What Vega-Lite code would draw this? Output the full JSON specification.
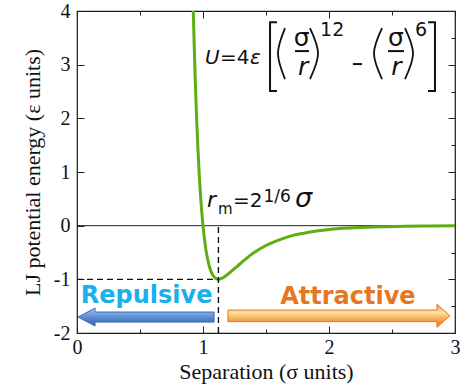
{
  "$schema": "https://vega.github.io/schema/vega-lite/v6.json",
  "width": 378,
  "height": 322,
  "autosize": {"type": "none"},
  "padding": {"left": 77, "top": 11, "right": 6, "bottom": 57},
  "config": {
    "view": {"stroke": "#1a1a1a", "strokeWidth": 1.2},
    "axis": {
      "labelFont": "Liberation Serif", "labelFontSize": 20, "labelColor": "#111",
      "titleFont": "Liberation Serif", "titleFontSize": 22, "titleFontWeight": "normal", "titleColor": "#111",
      "grid": false, "domain": false, "tickColor": "#222", "tickWidth": 1, "labelOverlap": false
    }
  },
  "resolve": {"axis": {"x": "independent", "y": "independent"}},
  "layer": [
    {
      "data": {"values": [{"x": 0, "x2": 3, "y": 0}]},
      "mark": {"type": "rule", "color": "#222", "strokeWidth": 1},
      "encoding": {
        "x": {"field": "x", "type": "quantitative", "scale": {"domain": [0, 3], "nice": false, "zero": false},
              "axis": {"orient": "top", "values": [0, 0.5, 1, 1.5, 2, 2.5, 3], "labels": false, "title": null,
                       "tickSize": {"condition": {"test": "datum.value % 1 === 0", "value": -7}, "value": -4}}},
        "x2": {"field": "x2"},
        "y": {"field": "y", "type": "quantitative", "scale": {"domain": [-2, 4], "nice": false, "zero": false},
              "axis": {"orient": "right", "values": [-2, -1.5, -1, -0.5, 0, 0.5, 1, 1.5, 2, 2.5, 3, 3.5, 4], "labels": false, "title": null,
                       "tickSize": {"condition": {"test": "datum.value % 1 === 0", "value": -7}, "value": -4}}}
      }
    },
    {
      "layer": [
        {
          "data": {"values": [
            {"x": 0.923, "y": 4.0}, {"x": 0.93, "y": 3.37}, {"x": 0.94, "y": 2.61}, {"x": 0.95, "y": 1.96},
            {"x": 0.96, "y": 1.42}, {"x": 0.97, "y": 0.96}, {"x": 0.98, "y": 0.58}, {"x": 0.99, "y": 0.26},
            {"x": 1.0, "y": 0.0}, {"x": 1.02, "y": -0.4}, {"x": 1.04, "y": -0.66}, {"x": 1.06, "y": -0.83},
            {"x": 1.08, "y": -0.93}, {"x": 1.1, "y": -0.98}, {"x": 1.1225, "y": -1.0}, {"x": 1.15, "y": -0.98},
            {"x": 1.2, "y": -0.9}, {"x": 1.25, "y": -0.8}, {"x": 1.3, "y": -0.7}, {"x": 1.4, "y": -0.51},
            {"x": 1.5, "y": -0.37}, {"x": 1.6, "y": -0.27}, {"x": 1.7, "y": -0.19}, {"x": 1.8, "y": -0.14},
            {"x": 1.9, "y": -0.1}, {"x": 2.0, "y": -0.07}, {"x": 2.2, "y": -0.04}, {"x": 2.4, "y": -0.02},
            {"x": 2.6, "y": -0.01}, {"x": 2.8, "y": -0.005}, {"x": 3.0, "y": 0.0}
          ]},
          "mark": {"type": "line", "color": "#5cae12", "strokeWidth": 3, "interpolate": "monotone", "clip": true},
          "encoding": {
            "x": {"field": "x", "type": "quantitative", "scale": {"domain": [0, 3], "nice": false, "zero": false},
                  "axis": {"orient": "bottom", "values": [0, 0.5, 1, 1.5, 2, 2.5, 3],
                           "tickSize": {"condition": {"test": "datum.value % 1 === 0", "value": -7}, "value": -4},
                           "labelExpr": "datum.value % 1 === 0 ? '' + datum.value : ''",
                           "labelFlush": false, "labelPadding": 11, "title": "Separation (σ units)", "titlePadding": 1}},
            "y": {"field": "y", "type": "quantitative", "scale": {"domain": [-2, 4], "nice": false, "zero": false},
                  "axis": {"orient": "left", "values": [-2, -1.5, -1, -0.5, 0, 0.5, 1, 1.5, 2, 2.5, 3, 3.5, 4],
                           "tickSize": {"condition": {"test": "datum.value % 1 === 0", "value": -7}, "value": -4},
                           "labelExpr": "datum.value % 1 === 0 ? (datum.value < 0 ? '-' + (-datum.value) : '' + datum.value) : ''",
                           "labelPadding": 14, "title": "LJ potential energy (ε units)", "titlePadding": 9}}
          }
        },
        {
          "data": {"values": [{"x": 1.1225, "y": -2, "y2": 0}]},
          "mark": {"type": "rule", "color": "#111", "strokeWidth": 1.4, "strokeDash": [6, 4]},
          "encoding": {"x": {"field": "x", "type": "quantitative"}, "y": {"field": "y", "type": "quantitative"}, "y2": {"field": "y2"}}
        },
        {
          "data": {"values": [{"x": 0, "x2": 1.1225, "y": -1}]},
          "mark": {"type": "rule", "color": "#111", "strokeWidth": 1.4, "strokeDash": [6, 4]},
          "encoding": {"x": {"field": "x", "type": "quantitative"}, "x2": {"field": "x2"}, "y": {"field": "y", "type": "quantitative"}}
        },
        {
          "data": {"values": [
            {"seg": "lb", "i": 0, "x": 1.587, "y": 3.792}, {"seg": "lb", "i": 1, "x": 1.532, "y": 3.792},
            {"seg": "lb", "i": 2, "x": 1.532, "y": 2.509}, {"seg": "lb", "i": 3, "x": 1.587, "y": 2.509},
            {"seg": "rb", "i": 0, "x": 2.786, "y": 3.792}, {"seg": "rb", "i": 1, "x": 2.841, "y": 3.792},
            {"seg": "rb", "i": 2, "x": 2.841, "y": 2.509}, {"seg": "rb", "i": 3, "x": 2.786, "y": 2.509},
            {"seg": "f1", "i": 0, "x": 1.73, "y": 3.253}, {"seg": "f1", "i": 1, "x": 1.841, "y": 3.253},
            {"seg": "f2", "i": 0, "x": 2.468, "y": 3.253}, {"seg": "f2", "i": 1, "x": 2.595, "y": 3.253},
            {"seg": "mn", "i": 0, "x": 2.19, "y": 3.011}, {"seg": "mn", "i": 1, "x": 2.262, "y": 3.011}
          ]},
          "mark": {"type": "line", "color": "#111", "strokeWidth": 2},
          "encoding": {
            "x": {"field": "x", "type": "quantitative"}, "y": {"field": "y", "type": "quantitative"},
            "detail": {"field": "seg"}, "order": {"field": "i"}
          }
        },
        {
          "data": {"values": [
            {"seg": "p1", "i": 0, "x": 1.651, "y": 3.68}, {"seg": "p1", "i": 1, "x": 1.595, "y": 3.206}, {"seg": "p1", "i": 2, "x": 1.651, "y": 2.732},
            {"seg": "p2", "i": 0, "x": 1.849, "y": 3.68}, {"seg": "p2", "i": 1, "x": 1.913, "y": 3.206}, {"seg": "p2", "i": 2, "x": 1.849, "y": 2.732},
            {"seg": "p3", "i": 0, "x": 2.421, "y": 3.68}, {"seg": "p3", "i": 1, "x": 2.357, "y": 3.206}, {"seg": "p3", "i": 2, "x": 2.421, "y": 2.732},
            {"seg": "p4", "i": 0, "x": 2.603, "y": 3.68}, {"seg": "p4", "i": 1, "x": 2.667, "y": 3.206}, {"seg": "p4", "i": 2, "x": 2.603, "y": 2.732}
          ]},
          "mark": {"type": "line", "color": "#111", "strokeWidth": 1.8, "interpolate": "natural"},
          "encoding": {
            "x": {"field": "x", "type": "quantitative"}, "y": {"field": "y", "type": "quantitative"},
            "detail": {"field": "seg"}, "order": {"field": "i"}
          }
        },
        {
          "data": {"values": [{"t": "U", "x": 1.016, "y": 3.02}]},
          "mark": {"type": "text", "font": "DejaVu Sans", "fontSize": 20, "fontStyle": "italic", "align": "left", "baseline": "alphabetic", "color": "#111"},
          "encoding": {"x": {"field": "x", "type": "quantitative"}, "y": {"field": "y", "type": "quantitative"}, "text": {"field": "t"}}
        },
        {
          "data": {"values": [{"t": "=4", "x": 1.135, "y": 3.02}]},
          "mark": {"type": "text", "font": "DejaVu Sans", "fontSize": 20, "align": "left", "baseline": "alphabetic", "color": "#111"},
          "encoding": {"x": {"field": "x", "type": "quantitative"}, "y": {"field": "y", "type": "quantitative"}, "text": {"field": "t"}}
        },
        {
          "data": {"values": [{"t": "ε", "x": 1.373, "y": 3.02}]},
          "mark": {"type": "text", "font": "DejaVu Sans", "fontSize": 20, "fontStyle": "italic", "align": "left", "baseline": "alphabetic", "color": "#111"},
          "encoding": {"x": {"field": "x", "type": "quantitative"}, "y": {"field": "y", "type": "quantitative"}, "text": {"field": "t"}}
        },
        {
          "data": {"values": [{"t": "σ", "x": 1.783, "y": 3.355}, {"t": "σ", "x": 2.532, "y": 3.355}]},
          "mark": {"type": "text", "font": "DejaVu Sans", "fontSize": 25, "align": "center", "baseline": "alphabetic", "color": "#111"},
          "encoding": {"x": {"field": "x", "type": "quantitative"}, "y": {"field": "y", "type": "quantitative"}, "text": {"field": "t"}}
        },
        {
          "data": {"values": [{"t": "r", "x": 1.795, "y": 2.807}, {"t": "r", "x": 2.535, "y": 2.807}]},
          "mark": {"type": "text", "font": "DejaVu Sans", "fontSize": 25, "fontStyle": "italic", "align": "center", "baseline": "alphabetic", "color": "#111"},
          "encoding": {"x": {"field": "x", "type": "quantitative"}, "y": {"field": "y", "type": "quantitative"}, "text": {"field": "t"}}
        },
        {
          "data": {"values": [{"t": "12", "x": 1.929, "y": 3.532}, {"t": "6", "x": 2.683, "y": 3.532}]},
          "mark": {"type": "text", "font": "DejaVu Sans", "fontSize": 19, "align": "left", "baseline": "alphabetic", "color": "#111"},
          "encoding": {"x": {"field": "x", "type": "quantitative"}, "y": {"field": "y", "type": "quantitative"}, "text": {"field": "t"}}
        },
        {
          "data": {"values": [{"t": "r", "x": 1.032, "y": 0.34}]},
          "mark": {"type": "text", "font": "DejaVu Sans", "fontSize": 22, "fontStyle": "italic", "align": "left", "baseline": "alphabetic", "color": "#111"},
          "encoding": {"x": {"field": "x", "type": "quantitative"}, "y": {"field": "y", "type": "quantitative"}, "text": {"field": "t"}}
        },
        {
          "data": {"values": [{"t": "m", "x": 1.119, "y": 0.217}]},
          "mark": {"type": "text", "font": "DejaVu Sans", "fontSize": 15, "align": "left", "baseline": "alphabetic", "color": "#111"},
          "encoding": {"x": {"field": "x", "type": "quantitative"}, "y": {"field": "y", "type": "quantitative"}, "text": {"field": "t"}}
        },
        {
          "data": {"values": [{"t": "=2", "x": 1.238, "y": 0.34}]},
          "mark": {"type": "text", "font": "DejaVu Sans", "fontSize": 20, "align": "left", "baseline": "alphabetic", "color": "#111"},
          "encoding": {"x": {"field": "x", "type": "quantitative"}, "y": {"field": "y", "type": "quantitative"}, "text": {"field": "t"}}
        },
        {
          "data": {"values": [{"t": "1/6", "x": 1.48, "y": 0.44}]},
          "mark": {"type": "text", "font": "DejaVu Sans", "fontSize": 17, "align": "left", "baseline": "alphabetic", "color": "#111"},
          "encoding": {"x": {"field": "x", "type": "quantitative"}, "y": {"field": "y", "type": "quantitative"}, "text": {"field": "t"}}
        },
        {
          "data": {"values": [{"t": "σ", "x": 1.73, "y": 0.34}]},
          "mark": {"type": "text", "font": "DejaVu Sans", "fontSize": 27, "fontStyle": "italic", "align": "left", "baseline": "alphabetic", "color": "#111"},
          "encoding": {"x": {"field": "x", "type": "quantitative"}, "y": {"field": "y", "type": "quantitative"}, "text": {"field": "t"}}
        },
        {
          "data": {"values": [{"x": 0.548, "y": -1.703}]},
          "mark": {"type": "point", "shape": "M -1 0 L -0.75 -0.132 L -0.75 -0.074 L 1 -0.074 L 1 0.074 L -0.75 0.074 L -0.75 0.132 Z",
                   "size": 18496, "filled": true, "opacity": 1, "stroke": "#3e6ab0", "strokeWidth": 1,
                   "fill": {"gradient": "linear", "x1": 0, "y1": 0, "x2": 0, "y2": 1,
                            "stops": [{"offset": 0, "color": "#a9c6ee"}, {"offset": 0.5, "color": "#5b8fd6"}, {"offset": 1, "color": "#3462a8"}]}},
          "encoding": {"x": {"field": "x", "type": "quantitative"}, "y": {"field": "y", "type": "quantitative"}}
        },
        {
          "data": {"values": [{"x": 2.079, "y": -1.68}]},
          "mark": {"type": "point", "shape": "M 1 0 L 0.883 -0.104 L 0.883 -0.052 L -1 -0.052 L -1 0.052 L 0.883 0.052 L 0.883 0.104 Z",
                   "size": 49284, "filled": true, "opacity": 1, "stroke": "#e07a1a", "strokeWidth": 1,
                   "fill": {"gradient": "linear", "x1": 0, "y1": 0, "x2": 0, "y2": 1,
                            "stops": [{"offset": 0, "color": "#f0a040"}, {"offset": 0.35, "color": "#fde0a8"}, {"offset": 0.7, "color": "#f7a040"}, {"offset": 1, "color": "#e07010"}]}},
          "encoding": {"x": {"field": "x", "type": "quantitative"}, "y": {"field": "y", "type": "quantitative"}}
        },
        {
          "data": {"values": [{"t": "Repulsive", "x": 0.553, "y": -1.444}]},
          "mark": {"type": "text", "font": "DejaVu Sans", "fontSize": 24, "fontWeight": "bold", "align": "center", "baseline": "alphabetic", "color": "#19b0ec"},
          "encoding": {"x": {"field": "x", "type": "quantitative"}, "y": {"field": "y", "type": "quantitative"}, "text": {"field": "t"}}
        },
        {
          "data": {"values": [{"t": "Attractive", "x": 2.15, "y": -1.455}]},
          "mark": {"type": "text", "font": "DejaVu Sans", "fontSize": 24, "fontWeight": "bold", "align": "center", "baseline": "alphabetic", "color": "#e8761e"},
          "encoding": {"x": {"field": "x", "type": "quantitative"}, "y": {"field": "y", "type": "quantitative"}, "text": {"field": "t"}}
        }
      ]
    }
  ]
}
